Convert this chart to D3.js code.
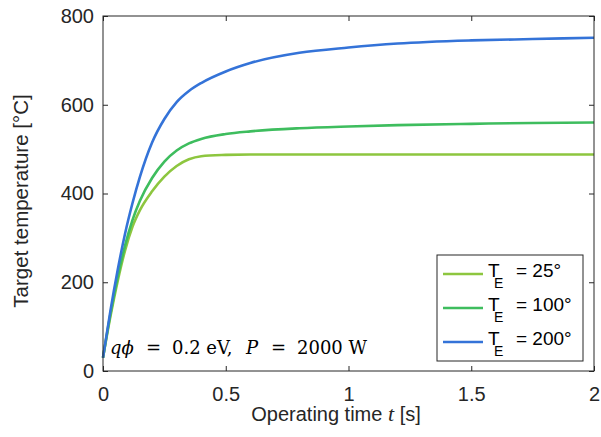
<!DOCTYPE html>
<html>
<head>
<meta charset="utf-8">
<script src="https://cdn.jsdelivr.net/npm/d3@7"></script>
<style>
  body { margin: 0; background: #fff; }
  svg { display: block; font-family: "Liberation Sans", Arial, Helvetica, sans-serif; }
</style>
</head>
<body>
<div id="chart"></div>
<script>
// Data
var timeS = [0, 0.03, 0.06, 0.09, 0.12, 0.15, 0.2, 0.25, 0.3, 0.35, 0.4, 0.5, 0.6, 0.8, 1.0, 1.2, 1.5, 1.75, 2.0];
var temp25  = [30, 122, 203, 272, 325, 362, 405, 438, 462, 477, 484, 487, 488, 488, 488, 488, 488, 488, 488];
var temp100 = [30, 128, 212, 283, 340, 383, 435, 472, 497, 513, 523, 534, 540, 547, 551, 554, 557, 559, 560];
var temp200 = [30, 135, 228, 310, 378, 437, 515, 568, 606, 631, 649, 675, 694, 717, 729, 738, 745, 748, 751];

var seriesNames = ["25°", "100°", "200°"];
var seriesColors = ["#8dc63f", "#3ebd5e", "#3473d8"];
var xTicks = [0, 0.5, 1, 1.5, 2];
var yTicks = [0, 200, 400, 600, 800];

var width = 601, height = 437;
var plotLeft = 103, plotRight = 594, plotTop = 16, plotBottom = 371;
var axisColor = "#262626";

var svg = d3.select("#chart").append("svg")
    .attr("width", width)
    .attr("height", height);

var x = d3.scaleLinear().domain([0, 2]).range([plotLeft, plotRight]);
var y = d3.scaleLinear().domain([0, 800]).range([plotBottom, plotTop]);

// curves
var allSeries = [temp25, temp100, temp200];
var line = d3.line()
    .x(function (d, i) { return x(timeS[i]); })
    .y(function (d) { return y(d); })
    .curve(d3.curveMonotoneX);

svg.append("g").selectAll("path")
    .data(allSeries)
    .join("path")
    .attr("d", line)
    .attr("fill", "none")
    .attr("stroke", function (d, i) { return seriesColors[i]; })
    .attr("stroke-width", 2.6);

// axes (ticks pointing inward, MATLAB style)
function styleAxis(g) {
    g.select(".domain").remove();
    g.selectAll("line").attr("stroke", axisColor).attr("stroke-width", 1);
    g.selectAll("text").attr("fill", axisColor).attr("font-size", 20)
        .attr("font-family", "'Liberation Sans', Arial, sans-serif");
}

svg.append("g")
    .attr("transform", "translate(0," + plotBottom + ")")
    .call(d3.axisBottom(x).tickValues(xTicks).tickFormat(d3.format("")).tickSizeInner(-5).tickSizeOuter(0).tickPadding(16))
    .call(styleAxis);

svg.append("g")
    .attr("transform", "translate(0," + plotTop + ")")
    .call(d3.axisTop(x).tickValues(xTicks).tickFormat("").tickSizeInner(-5).tickSizeOuter(0))
    .call(styleAxis);

svg.append("g")
    .attr("transform", "translate(" + plotLeft + ",0)")
    .call(d3.axisLeft(y).tickValues(yTicks).tickFormat(d3.format("")).tickSizeInner(-5).tickSizeOuter(0).tickPadding(9))
    .call(styleAxis);

svg.append("g")
    .attr("transform", "translate(" + plotRight + ",0)")
    .call(d3.axisRight(y).tickValues(yTicks).tickFormat("").tickSizeInner(-5).tickSizeOuter(0))
    .call(styleAxis);

// box
svg.append("rect")
    .attr("x", plotLeft)
    .attr("y", plotTop)
    .attr("width", plotRight - plotLeft)
    .attr("height", plotBottom - plotTop)
    .attr("fill", "none")
    .attr("stroke", axisColor)
    .attr("stroke-width", 1);

// axis labels
svg.append("text")
    .attr("transform", "translate(28,201) rotate(-90)")
    .attr("text-anchor", "middle")
    .attr("font-size", 20.5)
    .attr("fill", axisColor)
    .text("Target temperature [°C]");

var xLabel = svg.append("text")
    .attr("x", 336)
    .attr("y", 420.5)
    .attr("text-anchor", "middle")
    .attr("font-size", 20)
    .attr("fill", axisColor);
xLabel.append("tspan").text("Operating time ");
xLabel.append("tspan")
    .attr("font-family", "'Liberation Serif', 'Times New Roman', serif")
    .attr("font-style", "italic")
    .attr("font-size", 22)
    .text("t");
xLabel.append("tspan").text(" [s]");

// annotation, pieces placed like the math layout
var notePieces = [
    { text: "qϕ", x: 110, italic: true },
    { text: "=", x: 146, italic: false },
    { text: "0.2 eV,", x: 172, italic: false },
    { text: "P", x: 246, italic: true },
    { text: "=", x: 271, italic: false },
    { text: "2000 W", x: 297, italic: false }
];
var note = svg.append("text")
    .attr("y", 354)
    .attr("font-family", "'DejaVu Serif', 'Liberation Serif', serif")
    .attr("font-size", 18)
    .attr("fill", "#000");
notePieces.forEach(function (p) {
    note.append("tspan")
        .attr("x", p.x)
        .attr("font-style", p.italic ? "italic" : "normal")
        .text(p.text);
});

// legend
var legX = 437, legY = 255, legW = 146, legH = 106;
var legend = svg.append("g");
legend.append("rect")
    .attr("x", legX)
    .attr("y", legY)
    .attr("width", legW)
    .attr("height", legH)
    .attr("fill", "#fff")
    .attr("stroke", axisColor)
    .attr("stroke-width", 1);

var rowY = [274, 308, 342];
seriesNames.forEach(function (name, i) {
    legend.append("line")
        .attr("x1", 443).attr("x2", 483)
        .attr("y1", rowY[i]).attr("y2", rowY[i])
        .attr("stroke", seriesColors[i])
        .attr("stroke-width", 2.6);
    var t = legend.append("text")
        .attr("y", rowY[i] + 3)
        .attr("font-size", 19)
        .attr("fill", "#000");
    t.append("tspan").attr("x", 488).text("T");
    t.append("tspan").attr("x", 494).attr("dy", 11).attr("font-size", 14).text("E");
    t.append("tspan").attr("x", 516).attr("dy", -11).text("= " + name);
});
</script>
</body>
</html>
